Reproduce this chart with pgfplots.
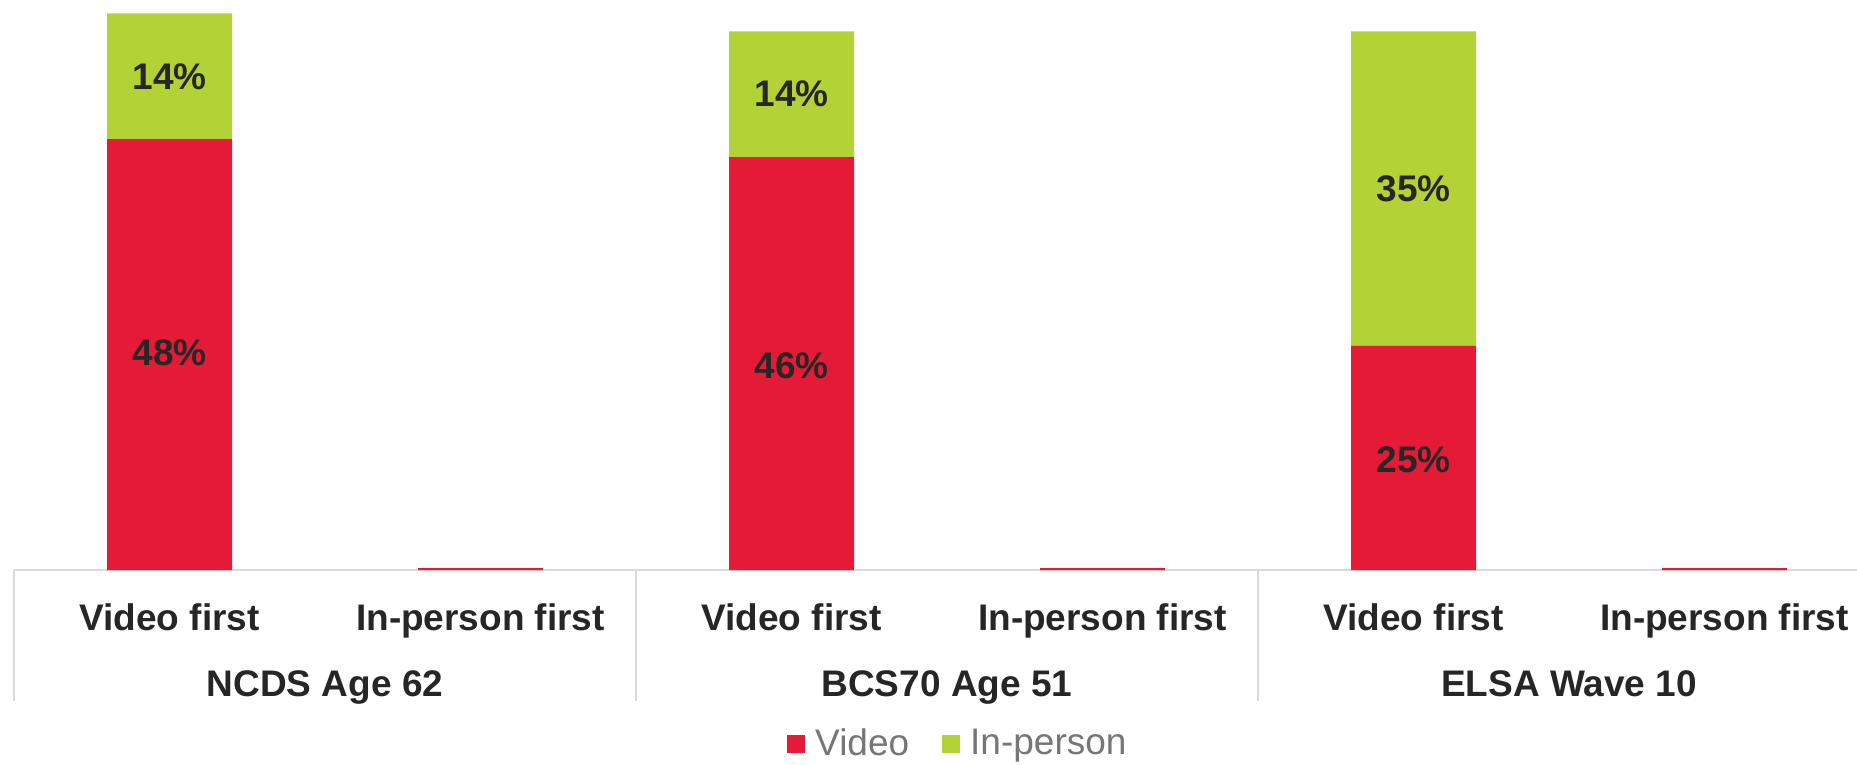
\documentclass[border=0pt]{standalone}
\usepackage{fontspec}
\setmainfont{Liberation Sans}
\usepackage{pgfplots}
\pgfplotsset{compat=1.18}

\definecolor{vidred}{RGB}{228,26,55}
\definecolor{ipgreen}{RGB}{179,210,53}
\definecolor{axgray}{RGB}{217,217,217}
\definecolor{txt}{RGB}{38,38,38}
\definecolor{leggray}{RGB}{118,118,118}

\newcommand{\lbl}{\fontsize{14.8pt}{17pt}\selectfont}

\begin{document}
\begin{tikzpicture}
\useasboundingbox (0,0) rectangle (742.8pt,305.6pt);
\begin{axis}[
    at={(5.6pt,77.6pt)}, anchor=south west,
    scale only axis,
    width=746.4pt, height=228pt,
    ybar stacked, bar width=50pt,
    xmin=-0.5, xmax=5.5, ymin=0, ymax=63.5,
    axis x line=bottom, axis y line=none,
    x axis line style={axgray, line width=0.8pt, -},
    xtick={0,...,5},
    xticklabels={Video first, In-person first, Video first, In-person first, Video first, In-person first},
    xtick style={draw=none},
    xticklabel style={font=\lbl\bfseries, text=txt, anchor=base, yshift=-22pt},
    ytick=\empty,
    clip=false,
    legend columns=2,
    legend style={at={(0.5065,-0.305)}, anchor=center, draw=none, fill=none,
        font=\lbl, text=leggray,
        /tikz/every even column/.append style={column sep=11pt}},
    legend image code/.code={\fill[#1] (0pt,-3.6pt) rectangle (7.2pt,3.6pt); \path (9.4pt,0pt);},
]
\addplot[fill=vidred, draw=none] coordinates {(0,48) (1,0.2) (2,46) (3,0.2) (4,25) (5,0.2)};
\addplot[fill=ipgreen, draw=none] coordinates {(0,14) (1,0) (2,14) (3,0) (4,35) (5,0)};
\legend{Video, In-person}

% anchor points for the segment labels
\coordinate (a1) at (axis cs:0,24.2);
\coordinate (a2) at (axis cs:0,55);
\coordinate (b1) at (axis cs:2,22.8);
\coordinate (b2) at (axis cs:2,53);
\coordinate (c1) at (axis cs:4,12.3);
\coordinate (c2) at (axis cs:4,42.5);

% category box lines
\draw[axgray, line width=0.8pt] (axis cs:-0.5,0) -- ([yshift=-52.4pt]axis cs:-0.5,0);
\draw[axgray, line width=0.8pt] (axis cs:1.5,0) -- ([yshift=-52.4pt]axis cs:1.5,0);
\draw[axgray, line width=0.8pt] (axis cs:3.5,0) -- ([yshift=-52.4pt]axis cs:3.5,0);

% group labels
\node[font=\lbl\bfseries, text=txt, anchor=base] at ([yshift=-50.4pt]axis cs:0.5,0) {NCDS Age 62};
\node[font=\lbl\bfseries, text=txt, anchor=base] at ([yshift=-50.4pt]axis cs:2.5,0) {BCS70 Age 51};
\node[font=\lbl\bfseries, text=txt, anchor=base] at ([yshift=-50.4pt]axis cs:4.5,0) {ELSA Wave 10};
\end{axis}
\begin{scope}[every node/.style={font=\lbl\bfseries, text=txt}]
\node at (a1) {48\%};
\node at (a2) {14\%};
\node at (b1) {46\%};
\node at (b2) {14\%};
\node at (c1) {25\%};
\node at (c2) {35\%};
\end{scope}
\end{tikzpicture}
\end{document}
